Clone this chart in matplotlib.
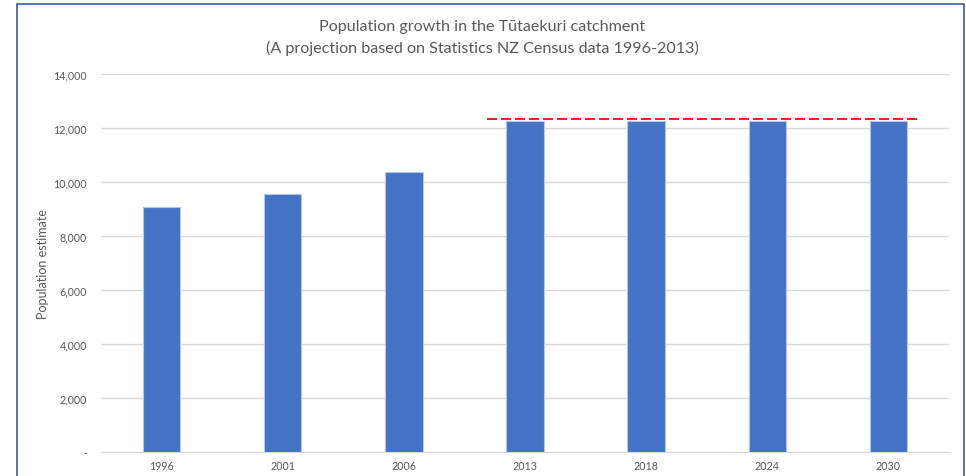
import matplotlib
matplotlib.use("Agg")
import matplotlib.pyplot as plt
from matplotlib.patches import Rectangle
from matplotlib.ticker import FuncFormatter
import numpy as np

# data
years = ['1996', '2001', '2006', '2013', '2018', '2024', '2030']
population = [9090, 9560, 10370, 12260, 12260, 12260, 12260]
ref_level = 12350          # dashed reference line
ref_span = [2.69, 6.26]    # category range covered by the line

title = "Population growth in the T\u016btaekuri catchment\n(A projection based on Statistics NZ Census data 1996-2013)"
ylabel = "Population estimate"

plt.rcParams['font.family'] = ['Lato', 'DejaVu Sans']
txtColor = '#595959'

fig = plt.figure(figsize=(9.66, 4.77), dpi=100)
W, H = 966.0, 477.0
ax = fig.add_axes([101 / W, 1 - 453 / H, 848 / W, 378 / H])

# outer chart frame
fig.patches.append(Rectangle((17 / W, -0.1), (964 - 17) / W, 1.1 - 5 / H,
                             transform=fig.transFigure, fill=False,
                             edgecolor='#3b5ba5', linewidth=1.2))

x = np.arange(len(years))
ax.bar(x, population, width=0.31, color='#4472c4', edgecolor='#b4c7e7', linewidth=0.8, zorder=3)
ax.hlines(ref_level, ref_span[0], ref_span[1], colors='#ee1c1c', linestyles=(0, (5.2, 2.0)),
          linewidth=1.4, zorder=4)

ax.set_xlim(-0.5, len(years) - 0.5)
ax.set_ylim(0, 14000)
ax.set_yticks(range(0, 14001, 2000))
ax.yaxis.set_major_formatter(FuncFormatter(lambda v, p: '-' if v == 0 else '{:,.0f}'.format(v)))
ax.set_xticks(x)
ax.set_xticklabels(years)
ax.grid(axis='y', color='#d9d9d9', linewidth=1, zorder=0)
for s in ['top', 'right', 'left']:
    ax.spines[s].set_visible(False)
ax.spines['bottom'].set_color('#d9d9d9')
ax.tick_params(axis='both', length=0, labelsize=7.7, labelcolor=txtColor)
ax.tick_params(axis='y', pad=10)
ax.tick_params(axis='x', pad=6)

ax.set_ylabel(ylabel, fontsize=9, color=txtColor)
ax.yaxis.set_label_coords((49 - 101) / 848, 0.5)

fig.text(482 / W, 1 - 38 / H, title, ha='center', va='center', fontsize=11.6,
         color=txtColor, linespacing=1.6)

fig.savefig('out.png', dpi=100)
